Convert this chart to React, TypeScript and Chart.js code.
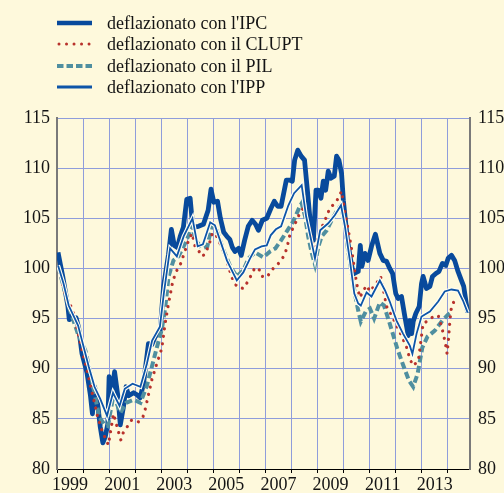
import React, { useEffect, useRef } from "react";
import { Chart, registerables } from "chart.js";

Chart.register(...registerables);

// ---------- data ----------
const yearLabels = ["1999", "2001", "2003", "2005", "2007", "2009", "2011", "2013"];
const yTickValues = [80, 85, 90, 95, 100, 105, 110, 115];

const seriesNames = [
  "deflazionato con l'IPC",
  "deflazionato con il CLUPT",
  "deflazionato con il PIL",
  "deflazionato con l'IPP",
];

// IPC (monthly, jagged)
const ipcT = [
  1999.04, 1999.22, 1999.42, 1999.47, 1999.6, 1999.73, 1999.83, 1999.96, 2000.15, 2000.28,
  2000.36, 2000.44, 2000.53, 2000.66, 2000.76, 2000.85, 2000.95, 2001.0, 2001.08, 2001.21,
  2001.34, 2001.43, 2001.55, 2001.65, 2001.75, 2001.94, 2002.07, 2002.19, 2002.32, 2002.51,
  2002.64, 2002.77, 2002.96, 2003.09, 2003.28, 2003.39, 2003.5, 2003.62, 2003.73, 2003.85,
  2003.98, 2004.11, 2004.21, 2004.43, 2004.62, 2004.8, 2004.91, 2005.02, 2005.16, 2005.27,
  2005.4, 2005.52, 2005.63, 2005.73, 2005.83, 2005.97, 2006.07, 2006.2, 2006.34, 2006.49,
  2006.62, 2006.73, 2006.88, 2007.05, 2007.21, 2007.34, 2007.47, 2007.6, 2007.8, 2007.94,
  2008.03, 2008.12, 2008.24, 2008.37, 2008.5, 2008.62, 2008.72, 2008.84, 2008.94, 2009.03,
  2009.13, 2009.22, 2009.31, 2009.41, 2009.51, 2009.64, 2009.73, 2009.82, 2009.92, 2009.99,
  2010.08, 2010.15, 2010.24, 2010.33, 2010.41, 2010.56, 2010.64, 2010.7, 2010.82, 2010.94,
  2011.07, 2011.22, 2011.39, 2011.52, 2011.65, 2011.77, 2011.88, 2012.0, 2012.09, 2012.22,
  2012.35, 2012.48, 2012.54, 2012.61, 2012.67, 2012.77, 2012.9, 2012.99, 2013.05, 2013.18,
  2013.31, 2013.41, 2013.54, 2013.66, 2013.79, 2013.92, 2014.01, 2014.14, 2014.26, 2014.39,
  2014.52, 2014.61, 2014.69, 2014.76,
];
const ipcV = [
  101.6, 99.2, 96.2, 94.9, 95.1, 95.1, 94.1, 91.5, 89.6, 87.4,
  85.5, 88.2, 87.2, 84.2, 82.6, 83.2, 84.5, 89.2, 87.2, 89.7,
  87.2, 84.4, 86.2, 88.2, 87.3, 87.6, 87.4, 87.1, 88.5, 92.5,
  92.4, 93.2, 93.8, 98.2, 101.4, 103.9, 102.3, 102.1, 103.2, 104.1,
  106.9, 107.0, 104.1, 104.2, 104.4, 105.8, 107.9, 106.6, 106.7, 105.0,
  103.6, 103.2, 102.9, 102.1, 101.7, 102.0, 101.3, 102.8, 104.2, 104.8,
  104.4, 103.8, 104.8, 105.0, 106.0, 106.7, 106.2, 106.2, 108.8, 108.8,
  108.7, 110.8, 111.8, 111.2, 110.8, 107.5, 104.6, 102.8, 107.8, 107.8,
  107.0, 108.7, 107.8, 109.7, 109.0, 109.2, 111.2, 110.8, 109.5, 106.8,
  104.5, 102.8, 101.3, 100.0, 99.5, 99.7, 102.3, 100.2, 101.5, 100.8,
  102.2, 103.4, 101.5, 100.8, 100.7, 100.0, 99.5, 97.5, 97.0, 97.2,
  95.2, 93.3, 94.8, 93.5, 94.7, 95.5, 96.2, 98.5, 99.2, 98.0,
  98.2, 99.2, 99.5, 99.7, 100.5, 100.3, 101.0, 101.3, 100.8, 99.7,
  98.8, 98.2, 96.8, 95.6,
];

// CLUPT
const cluptT = [
  1999.1, 1999.35, 1999.54, 1999.66, 1999.9, 2000.12, 2000.33, 2000.56, 2000.73, 2000.97,
  2001.17, 2001.36, 2001.45, 2001.54, 2001.87, 2002.13, 2002.3, 2002.39, 2002.51, 2002.64,
  2002.83, 2003.02, 2003.15, 2003.28, 2003.45, 2003.6, 2003.75, 2004.05, 2004.18, 2004.3,
  2004.43, 2004.57, 2004.7, 2004.85, 2004.96, 2005.07, 2005.2, 2005.35, 2005.47, 2005.6,
  2005.73, 2005.9, 2006.15, 2006.35, 2006.6, 2006.8, 2006.9, 2007.1, 2007.3, 2007.5,
  2007.7, 2007.82, 2007.95, 2008.1, 2008.26, 2008.45, 2008.58, 2008.7, 2008.88, 2009.09,
  2009.27, 2009.47, 2009.73, 2009.92, 2010.07, 2010.18, 2010.3, 2010.41, 2010.5, 2010.62,
  2010.78, 2010.9, 2011.0, 2011.26, 2011.42, 2011.57, 2011.65, 2011.85, 2012.03, 2012.22,
  2012.41, 2012.54, 2012.67, 2012.87, 2013.05, 2013.24, 2013.44, 2013.63, 2013.76, 2013.85,
  2013.92, 2013.97, 2014.02, 2014.08, 2014.14, 2014.33,
];
const cluptV = [
  99.8, 97.0, 96.2, 95.3, 92.5, 90.2, 87.8, 85.2, 83.8, 82.4,
  85.5, 83.7, 82.9, 83.6, 84.9, 84.7, 85.2, 86.0, 87.4, 88.9,
  90.5, 92.0, 94.5, 96.5, 98.8, 99.8, 100.5, 102.8, 103.5, 102.2,
  101.8, 101.2, 101.5, 102.5, 103.5, 103.5, 102.8, 102.0, 101.2, 100.0,
  99.0, 98.2, 98.0, 98.8, 100.1, 99.8, 99.1, 99.3, 100.0, 100.5,
  101.2, 102.0, 103.5, 104.2, 105.2, 106.0, 105.0, 103.8, 101.6, 103.7,
  104.7, 106.0, 106.7, 107.7, 105.3, 103.8, 102.0, 100.0, 98.5, 97.1,
  97.9, 98.3, 97.7, 98.5, 99.2, 97.3, 96.2, 95.3, 94.3, 93.3,
  92.2, 91.0, 90.3, 90.8, 94.5, 94.8, 95.2, 95.3, 94.2, 93.2,
  92.3, 91.5, 92.8, 94.8, 96.2, 97.2,
];

// PIL
const pilT = [
  1999.05, 1999.45, 1999.8, 2000.09, 2000.34, 2000.62, 2000.8, 2000.95, 2001.17, 2001.43,
  2001.65, 2001.94, 2002.2, 2002.45, 2002.64, 2002.84, 2003.02, 2003.15, 2003.28, 2003.47,
  2003.66, 2003.86, 2004.05, 2004.18, 2004.32, 2004.57, 2004.77, 2004.94, 2005.13, 2005.39,
  2005.65, 2005.9, 2006.15, 2006.35, 2006.6, 2006.92, 2007.18, 2007.38, 2007.6, 2007.82,
  2008.07, 2008.32, 2008.39, 2008.52, 2008.64, 2008.78, 2008.9, 2009.03, 2009.16, 2009.35,
  2009.54, 2009.73, 2009.9, 2010.04, 2010.15, 2010.31, 2010.43, 2010.56, 2010.66, 2010.85,
  2011.01, 2011.17, 2011.39, 2011.55, 2011.77, 2012.06, 2012.28, 2012.51, 2012.67, 2012.84,
  2013.02, 2013.22, 2013.5, 2013.79, 2014.01, 2014.18,
];
const pilV = [
  100.2, 96.2, 93.5, 91.8, 88.8, 85.2, 84.5, 84.3, 87.4, 85.6,
  86.6, 86.9, 86.6, 88.3, 90.2, 92.2, 93.9, 96.0, 99.2, 100.8,
  101.2, 102.2, 103.3, 104.3, 102.8, 102.0, 102.2, 104.3, 103.8, 101.8,
  100.2, 99.2, 99.8, 101.0, 101.6, 101.1, 101.7, 102.0, 102.8, 103.7,
  104.7, 106.2, 106.5, 105.2, 103.2, 101.5, 100.4, 102.2, 103.2, 103.8,
  104.8, 105.7, 106.3, 104.5, 102.2, 99.5, 97.5, 95.8, 94.7, 95.7,
  96.0, 95.0, 96.6, 96.3, 94.5, 92.0, 90.4, 88.8, 88.2, 89.5,
  92.1, 93.2, 93.8, 94.8, 95.4, 95.7,
];

// IPP
const ippT = [
  1999.04, 1999.25, 1999.45, 1999.65, 1999.81, 1999.96, 2000.22, 2000.44, 2000.66, 2000.92,
  2001.15, 2001.4, 2001.6, 2001.9, 2002.2, 2002.45, 2002.65, 2002.95, 2003.1, 2003.34,
  2003.6, 2003.86, 2004.2, 2004.4, 2004.6, 2004.88, 2005.06, 2005.3, 2005.52, 2005.9,
  2006.15, 2006.41, 2006.6, 2006.85, 2007.05, 2007.2, 2007.4, 2007.6, 2007.88, 2008.1,
  2008.39, 2008.56, 2008.78, 2008.9, 2009.1, 2009.41, 2009.66, 2009.9, 2010.05, 2010.24,
  2010.41, 2010.56, 2010.66, 2010.88, 2011.07, 2011.39, 2011.59, 2011.77, 2012.03, 2012.28,
  2012.54, 2012.64, 2012.8, 2012.99, 2013.31, 2013.63, 2013.88, 2014.14, 2014.39, 2014.58,
  2014.76,
];
const ippV = [
  100.3, 98.5, 96.3, 95.2, 94.3, 92.8, 90.2, 88.2, 87.0, 85.3,
  87.6, 86.3, 88.0, 88.5, 88.2, 90.5, 92.8, 94.2, 97.5, 102.0,
  101.2, 103.2, 105.0, 102.2, 102.4, 104.6, 104.3, 102.5, 100.8, 98.8,
  99.6, 101.0, 101.9, 102.2, 102.3, 103.3, 103.9, 104.2, 106.3, 107.5,
  108.3, 105.2, 102.5, 101.0, 103.8, 104.5, 105.3, 106.3, 104.2, 100.8,
  97.5, 96.5, 96.3, 97.6, 97.2, 98.8, 97.8, 96.7, 94.8, 93.5,
  92.3, 91.5, 93.5, 95.2, 95.7, 96.7, 97.7, 97.9, 97.8, 96.8,
  95.6,
];

// ---------- styles ----------
const BG = "#fef9dc";
const GRID = "#8f9ddb";
const AXIS_GRAY = "#7a7a7a";
const TEXT = "#141414";
const FONT = "'Liberation Serif', 'Times New Roman', 'DejaVu Serif', serif";
const C_IPC = "#084a9c";
const C_CLUPT = "#b8322c";
const C_PIL = "#4f8fa0";
const C_IPP = "#0d55a8";

const X_MIN = 1999;
const X_MAX = 2014.85;

const toPts = (t: number[], v: number[]) => t.map((x, i) => ({ x, y: v[i] }));

function Legend() {
  const rows = [
    { name: seriesNames[0], color: C_IPC, width: 4.5, dash: "", cap: "butt" as const },
    { name: seriesNames[1], color: C_CLUPT, width: 3, dash: "0.01 7.5", cap: "round" as const },
    { name: seriesNames[2], color: C_PIL, width: 4, dash: "6.5 3", cap: "butt" as const },
    { name: seriesNames[3], color: C_IPP, width: 3, dash: "", cap: "butt" as const },
  ];
  const centers = [22.5, 44, 65.5, 87];
  return (
    <>
      {rows.map((r, i) => (
        <React.Fragment key={i}>
          <svg
            width={40}
            height={10}
            style={{ position: "absolute", left: 56, top: centers[i] - 5 }}
          >
            <line
              x1={r.cap === "round" ? 3 : 1}
              y1={5}
              x2={36}
              y2={5}
              stroke={r.color}
              strokeWidth={r.width}
              strokeDasharray={r.dash || undefined}
              strokeLinecap={r.cap}
            />
          </svg>
          <div
            style={{
              position: "absolute",
              left: 107,
              top: centers[i] - 11,
              height: 22,
              lineHeight: "22px",
              fontFamily: FONT,
              fontSize: 18,
              color: TEXT,
              whiteSpace: "nowrap",
            }}
          >
            {r.name}
          </div>
        </React.Fragment>
      ))}
    </>
  );
}

export default function App() {
  const ref = useRef<HTMLCanvasElement | null>(null);

  useEffect(() => {
    if (!ref.current) return;
    const labelPos: Record<string, string> = {};
    yearLabels.forEach((y) => {
      labelPos[String(Number(y) + 0.5)] = y;
    });
    const xTicks: number[] = [];
    for (let y = 1999; y <= 2014; y++) {
      xTicks.push(y);
      if (y + 0.5 < X_MAX) xTicks.push(y + 0.5);
    }
    const isInt = (v: number) => Math.abs(v - Math.round(v)) < 1e-6;

    const chart = new Chart(ref.current, {
      type: "line",
      data: {
        datasets: [
          {
            label: seriesNames[3],
            data: toPts(ippT, ippV),
            borderColor: C_IPP,
            borderWidth: 1.8,
            order: 0,
          },
          {
            label: "halo",
            data: toPts(ippT, ippV),
            borderColor: "#fffef4",
            borderWidth: 4,
            order: 1,
          },
          {
            label: seriesNames[2],
            data: toPts(pilT, pilV),
            borderColor: C_PIL,
            borderWidth: 4,
            borderDash: [7, 3.5],
            order: 3,
          },
          {
            label: seriesNames[1],
            data: toPts(cluptT, cluptV),
            borderColor: C_CLUPT,
            borderWidth: 3.2,
            borderDash: [0.01, 7.5],
            borderCapStyle: "round",
            order: 2,
          },
          {
            label: seriesNames[0],
            data: toPts(ipcT, ipcV),
            borderColor: C_IPC,
            borderWidth: 4.8,
            borderJoinStyle: "round",
            order: 4,
          },
        ] as any,
      },
      options: {
        animation: false,
        responsive: false,
        devicePixelRatio: 1,
        parsing: true,
        elements: {
          point: { radius: 0, hoverRadius: 0 },
          line: { tension: 0, fill: false },
        },
        layout: { padding: { top: 118, left: 0, right: 0, bottom: 0 } },
        plugins: {
          legend: { display: false },
          tooltip: { enabled: false },
          title: { display: false },
        },
        scales: {
          x: {
            type: "linear",
            position: "bottom",
            min: X_MIN,
            max: X_MAX,
            afterBuildTicks: (axis: any) => {
              axis.ticks = xTicks.map((v) => ({ value: v }));
            },
            afterFit: (axis: any) => {
              axis.height = 24;
            },
            ticks: {
              autoSkip: false,
              maxRotation: 0,
              minRotation: 0,
              padding: 1,
              color: TEXT,
              font: { family: FONT, size: 18 },
              callback: (v: any) => labelPos[String(Number(v))] ?? "",
            },
            grid: {
              color: (ctx: any) => (ctx.tick && isInt(ctx.tick.value) ? GRID : "rgba(0,0,0,0)"),
              tickColor: (ctx: any) => (ctx.tick && isInt(ctx.tick.value) ? "#000" : "rgba(0,0,0,0)"),
              tickLength: 4,
              lineWidth: 1,
            },
            border: { display: true, color: "#000", width: 1 },
          },
          y: {
            type: "linear",
            position: "left",
            min: 80,
            max: 115,
            afterBuildTicks: (axis: any) => {
              axis.ticks = yTickValues.map((v) => ({ value: v }));
            },
            afterFit: (axis: any) => {
              axis.width = 57;
            },
            ticks: {
              padding: 7,
              color: TEXT,
              font: { family: FONT, size: 18 },
            },
            grid: { color: GRID, lineWidth: 1, drawTicks: false },
            border: { display: true, color: AXIS_GRAY, width: 2 },
          },
          y2: {
            type: "linear",
            position: "right",
            min: 80,
            max: 115,
            afterBuildTicks: (axis: any) => {
              axis.ticks = yTickValues.map((v) => ({ value: v }));
            },
            afterFit: (axis: any) => {
              axis.width = 34;
            },
            ticks: {
              padding: 8,
              color: TEXT,
              font: { family: FONT, size: 18 },
            },
            grid: { drawOnChartArea: false, drawTicks: false },
            border: { display: true, color: AXIS_GRAY, width: 2 },
          },
        },
      } as any,
    });
    return () => chart.destroy();
  }, []);

  return (
    <div
      style={{
        position: "absolute",
        left: 0,
        top: 0,
        width: 504,
        height: 493,
        background: BG,
        overflow: "hidden",
      }}
    >
      <canvas ref={ref} width={504} height={493} style={{ position: "absolute", left: 0, top: 0 }} />
      <Legend />
    </div>
  );
}
